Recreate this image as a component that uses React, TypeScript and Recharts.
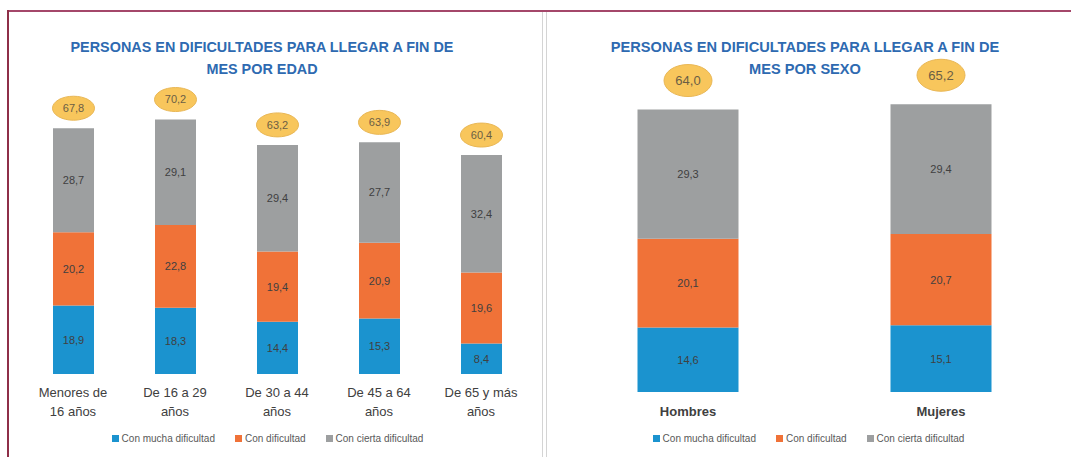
import React from 'react';
import { BarChart, Bar, XAxis, YAxis, LabelList, Legend } from 'recharts';

// ---- Data ----
const ageCategories = ['Menores de 16 años', 'De 16 a 29 años', 'De 30 a 44 años', 'De 45 a 64 años', 'De 65 y más años'];
const ageTickLines = [
  ['Menores de', '16 años'],
  ['De 16 a 29', 'años'],
  ['De 30 a 44', 'años'],
  ['De 45 a 64', 'años'],
  ['De 65 y más', 'años'],
];
const ageMucha = [18.9, 18.3, 14.4, 15.3, 8.4];
const ageCon = [20.2, 22.8, 19.4, 20.9, 19.6];
const ageCierta = [28.7, 29.1, 29.4, 27.7, 32.4];
const ageTotal = [67.8, 70.2, 63.2, 63.9, 60.4];

const sexCategories = ['Hombres', 'Mujeres'];
const sexMucha = [14.6, 15.1];
const sexCon = [20.1, 20.7];
const sexCierta = [29.3, 29.4];
const sexTotal = [64.0, 65.2];

const seriesNames = ['Con mucha dificultad', 'Con dificultad', 'Con cierta dificultad'];
const seriesColors = ['#1B93CF', '#F07238', '#9D9FA0'];

const ageData = ageCategories.map((c, i) => ({
  cat: c, lines: ageTickLines[i], mucha: ageMucha[i], con: ageCon[i], cierta: ageCierta[i], total: ageTotal[i],
}));
const sexData = sexCategories.map((c, i) => ({
  cat: c, lines: [c], mucha: sexMucha[i], con: sexCon[i], cierta: sexCierta[i], total: sexTotal[i],
}));

const fmt = (v: any) => Number(v).toFixed(1).replace('.', ',');
const FONT = '"Liberation Sans", Arial, sans-serif';

const makeEllipse = (rx: number, ry: number, off: number, fs: number) => (props: any) => {
  const { x, y, width, value } = props;
  const cx = Number(x) + Number(width) / 2;
  const cy = Number(y) - off;
  return (
    <g>
      <ellipse cx={cx} cy={cy} rx={rx} ry={ry} fill="#F8C65C" stroke="#E9B755" strokeWidth={1} />
      <text x={cx} y={cy} dy={fs * 0.36} textAnchor="middle" fontSize={fs} fontFamily={FONT} fill="#6B5E45">
        {fmt(value)}
      </text>
    </g>
  );
};

const makeTick = (offsets: number[], bold: boolean) => (props: any) => {
  const { x, y, index, data } = props;
  const lines: string[] = data[index].lines;
  return (
    <g>
      {lines.map((l, i) => (
        <text key={i} x={x} y={Number(y) + offsets[i]} textAnchor="middle" fontSize={13}
          fontWeight={bold ? 'bold' : 'normal'} fontFamily={FONT} fill="#404040">
          {l}
        </text>
      ))}
    </g>
  );
};

const LegendContent = (props: any) => {
  const payload = [...(props.payload || [])].sort(
    (a: any, b: any) => seriesNames.indexOf(a.value) - seriesNames.indexOf(b.value)
  );
  return (
    <div style={{ display: 'flex', justifyContent: 'center', alignItems: 'center', fontFamily: FONT, fontSize: 10, color: '#595959' }}>
      {payload.map((p: any, i: number) => (
        <div key={i} style={{ display: 'flex', alignItems: 'center', marginLeft: i === 0 ? 0 : 20 }}>
          <span style={{ display: 'inline-block', width: 7, height: 7, background: p.color, marginRight: 3 }} />
          <span>{p.value}</span>
        </div>
      ))}
    </div>
  );
};

const segLabel = { fontSize: 11, fill: '#404040', fontFamily: FONT } as any;

function Panel(props: {
  data: any[]; width: number; height: number; margin: any; domainMax: number; barSize: number;
  ellipse: any; tick: any; legendTop: number; legendOffset: number;
}) {
  const { data, width, height, margin, domainMax, barSize, ellipse, tick, legendTop, legendOffset } = props;
  const keys = ['mucha', 'con', 'cierta'];
  return (
    <BarChart width={width} height={height} data={data} margin={margin} barCategoryGap={0}>
      <XAxis dataKey="cat" axisLine={false} tickLine={false} tickSize={0} tickMargin={0} height={40}
        interval={0} tick={(p: any) => tick({ ...p, data })} />
      <YAxis hide domain={[0, domainMax]} />
      <Legend layout="horizontal" verticalAlign="middle" align="center"
        wrapperStyle={{ top: legendTop, left: legendOffset, width: width }}
        content={<LegendContent />} />
      {keys.map((k, i) => (
        <Bar key={k} dataKey={k} name={seriesNames[i]} stackId="a" fill={seriesColors[i]} barSize={barSize} isAnimationActive={false}>
          <LabelList dataKey={k} position="center" formatter={fmt} style={segLabel} />
          {k === 'cierta' ? <LabelList dataKey="total" content={ellipse} /> : null}
        </Bar>
      ))}
    </BarChart>
  );
}

export default function App() {
  return (
    <div style={{ position: 'absolute', left: 0, top: 0, width: 1071, height: 457, background: '#fff', overflow: 'hidden' }}>
      {/* frame */}
      <div style={{ position: 'absolute', left: 8, top: 10, width: 1063, height: 2, background: '#A4476A' }} />
      <div style={{ position: 'absolute', left: 7, top: 10, width: 2, height: 447, background: '#8E2F48' }} />
      <div style={{ position: 'absolute', left: 542, top: 12, width: 1, height: 445, background: '#D4D4D4' }} />
      <div style={{ position: 'absolute', left: 546, top: 12, width: 1, height: 445, background: '#D4D4D4' }} />

      {/* titles */}
      <div style={{ position: 'absolute', left: 62, top: 36, width: 400, textAlign: 'center', fontFamily: FONT, fontWeight: 'bold', fontSize: 14.4, lineHeight: '22px', color: '#2E6AB1' }}>
        PERSONAS EN DIFICULTADES PARA LLEGAR A FIN DE<br />MES POR EDAD
      </div>
      <div style={{ position: 'absolute', left: 605, top: 36, width: 400, textAlign: 'center', fontFamily: FONT, fontWeight: 'bold', fontSize: 14.6, lineHeight: '22px', color: '#2E6AB1' }}>
        PERSONAS EN DIFICULTADES PARA LLEGAR A FIN DE<br />MES POR SEXO
      </div>

      <div style={{ position: 'absolute', left: 0, top: 0 }}>
        <Panel data={ageData} width={535} height={457}
          margin={{ top: 84, right: 3, bottom: 43, left: 22 }} domainMax={80} barSize={41}
          ellipse={makeEllipse(21, 12, 20, 11)} tick={makeTick([23, 42], false)}
          legendTop={433} legendOffset={0} />
      </div>
      <div style={{ position: 'absolute', left: 546, top: 0 }}>
        <Panel data={sexData} width={525} height={457}
          margin={{ top: 61, right: 3.5, bottom: 25, left: 15.5 }} domainMax={75} barSize={101}
          ellipse={makeEllipse(24, 16, 29, 13)} tick={makeTick([24], true)}
          legendTop={433} legendOffset={0} />
      </div>
    </div>
  );
}
